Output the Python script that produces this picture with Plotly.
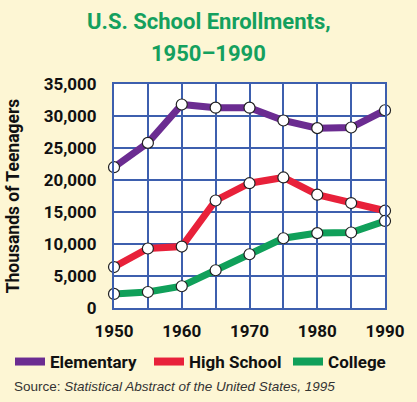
import plotly.graph_objects as go

years = [1950, 1955, 1960, 1965, 1970, 1975, 1980, 1985, 1990]
elementary = [22000, 25800, 31800, 31300, 31300, 29300, 28100, 28200, 30900]
high_school = [6400, 9300, 9600, 16800, 19500, 20400, 17700, 16400, 15200]
college = [2200, 2500, 3400, 5900, 8400, 10900, 11700, 11800, 13600]

series_names = ["Elementary", "High School", "College"]
series_values = [elementary, high_school, college]
colors = ["#6B2C91", "#E8213A", "#10A05A"]

x_ticks = [1950, 1960, 1970, 1980, 1990]
y_ticks = [0, 5000, 10000, 15000, 20000, 25000, 30000, 35000]

title_lines = ["U.S. School Enrollments,", "1950–1990"]

font_main = "Roboto, Arial, sans-serif"

fig = go.Figure()
for name, vals, col in zip(series_names, series_values, colors):
    fig.add_trace(go.Scatter(
        x=years, y=vals, mode="lines+markers", showlegend=False,
        line=dict(color=col, width=7),
        marker=dict(size=11, color="white", line=dict(color="#222222", width=1.2)),
        cliponaxis=False,
    ))
for name, col in zip(series_names, colors):
    fig.add_trace(go.Scatter(
        x=[None], y=[None], mode="lines", name=name,
        line=dict(color=col, width=8),
    ))

fig.update_layout(
    template="none",
    width=417, height=402,
    paper_bgcolor="#FDF6D4", plot_bgcolor="white",
    margin=dict(l=0, r=0, t=84, b=94, autoexpand=False),
    showlegend=True,
    legend=dict(orientation="h", x=0.024, xanchor="left",
                y=-0.241, yanchor="middle", bgcolor="rgba(0,0,0,0)",
                font=dict(family=font_main, size=17, color="#111111", weight="bold"),
                itemwidth=30, tracegroupgap=0, entrywidth=94, entrywidthmode="pixels"),
    font=dict(family=font_main),
)
fig.update_xaxes(
    domain=[0.2734, 0.9233], automargin=False,
    range=[1950, 1990], tickvals=x_ticks,
    showgrid=True, gridcolor="#3D5FAE", gridwidth=2,
    showline=True, linecolor="#3D5FAE", linewidth=2, mirror=True,
    zeroline=False, ticks="", ticklabelstandoff=7,
    tickfont=dict(family=font_main, size=17, color="#111111", weight="bold"),
    minor=dict(tickvals=[1955, 1965, 1975, 1985], showgrid=True, gridcolor="#3D5FAE", gridwidth=2),
)
fig.update_yaxes(
    range=[0, 35000], tickvals=y_ticks, tickformat=",", automargin=False,
    showgrid=True, gridcolor="#3D5FAE", gridwidth=2,
    showline=True, linecolor="#3D5FAE", linewidth=2, mirror=True,
    zeroline=False, ticks="", ticklabelstandoff=12,
    tickfont=dict(family=font_main, size=17, color="#111111", weight="bold"),
    title=dict(text="Thousands of Teenagers", standoff=20,
               font=dict(family=font_main, size=17.5, color="#111111", weight="bold")),
)
for txt, yy in zip(title_lines, [1.277, 1.134]):
    fig.add_annotation(
        text=txt, xref="paper", yref="paper", x=0.5, y=yy, xanchor="center", yanchor="middle",
        showarrow=False, font=dict(family=font_main, size=22, color="#14A05E", weight="bold"),
    )
fig.add_annotation(
    text="Source: <i>Statistical Abstract of the United States, 1995</i>",
    xref="paper", yref="paper", x=0.0288, y=-0.352, xanchor="left", yanchor="middle",
    showarrow=False, font=dict(family="Liberation Sans, Arial, sans-serif", size=13.5, color="#333333"),
)
fig.write_html("out.html", config={"displayModeBar": False},
               post_script="document.body.style.margin='0';")
